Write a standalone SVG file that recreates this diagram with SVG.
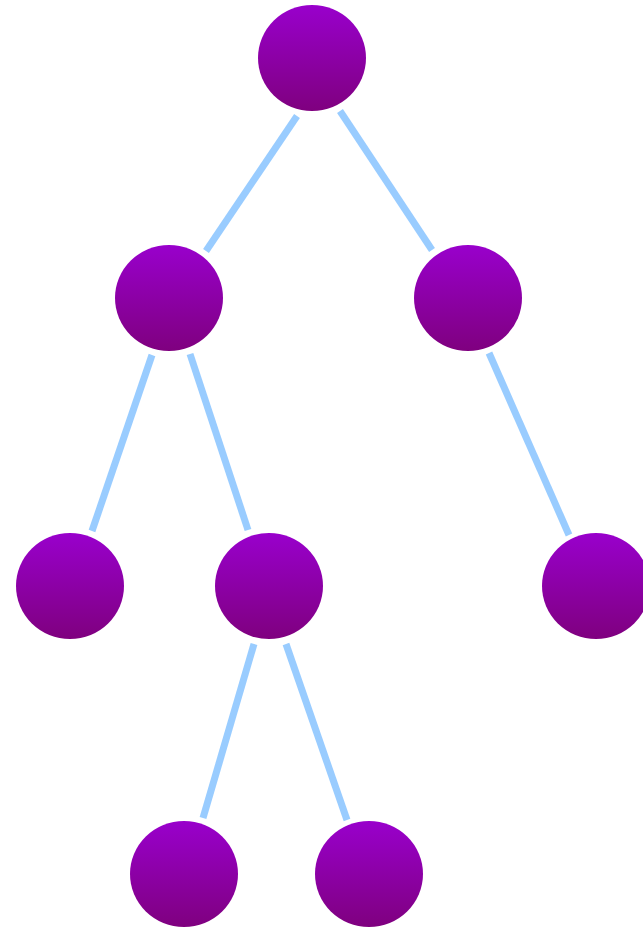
<svg xmlns="http://www.w3.org/2000/svg" width="643" height="928" viewBox="0 0 643 928">
<defs>
<linearGradient id="g" x1="0" y1="0" x2="0" y2="1">
<stop offset="0" stop-color="#9900CC"/>
<stop offset="1" stop-color="#7F007F"/>
</linearGradient>
<style>
.n{fill:url(#g)}
.e{stroke:#99CCFF;stroke-width:7;fill:none}
</style>
</defs>
<rect width="643" height="928" fill="#fff"/>
<g id="edges">
<line class="e" x1="297" y1="116" x2="206" y2="251"/>
<line class="e" x1="340" y1="111" x2="432" y2="250"/>
<line class="e" x1="152" y1="355" x2="92" y2="531"/>
<line class="e" x1="190" y1="354" x2="248" y2="530"/>
<line class="e" x1="489" y1="353" x2="569" y2="535"/>
<line class="e" x1="254" y1="644" x2="203" y2="818"/>
<line class="e" x1="286" y1="644" x2="347" y2="820"/>
</g>
<g id="n1"><ellipse class="n" cx="312" cy="58" rx="54" ry="53"/></g>
<g id="n2"><ellipse class="n" cx="169" cy="298" rx="54" ry="53"/></g>
<g id="n3"><ellipse class="n" cx="468" cy="298" rx="54" ry="53"/></g>
<g id="n4"><ellipse class="n" cx="70" cy="586" rx="54" ry="53"/></g>
<g id="n5"><ellipse class="n" cx="269" cy="586" rx="54" ry="53"/></g>
<g id="n6"><ellipse class="n" cx="596" cy="586" rx="54" ry="53"/></g>
<g id="n7"><ellipse class="n" cx="184" cy="874" rx="54" ry="53"/></g>
<g id="n8"><ellipse class="n" cx="369" cy="874" rx="54" ry="53"/></g>
</svg>
